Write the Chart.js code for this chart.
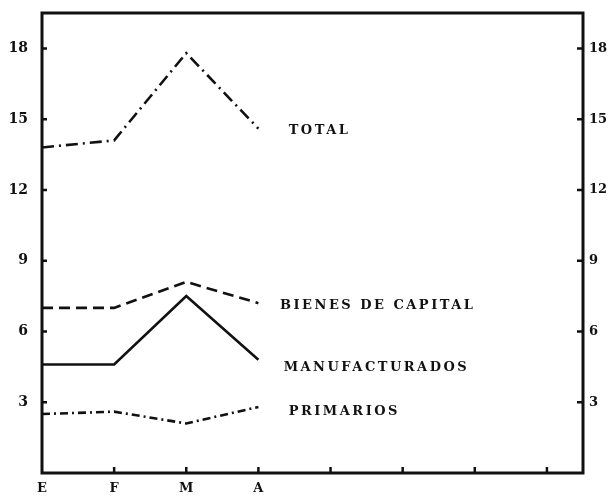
<!DOCTYPE html>
<html>
<head>
<meta charset="utf-8">
<script src="https://cdn.jsdelivr.net/npm/chart.js@4/dist/chart.umd.min.js"></script>
<style>
  html, body { margin: 0; padding: 0; background: #fff; }
  #wrap { width: 611px; height: 500px; }
</style>
</head>
<body>
<div id="wrap"><canvas id="chart" width="611" height="500"></canvas></div>
<script>
// months shown on the axis, the rest of the year is left blank
const months = ['E', 'F', 'M', 'A'];
const total = [13.8, 14.1, 17.8, 14.6];
const bienesCapital = [7.0, 7.0, 8.1, 7.2];
const manufacturados = [4.6, 4.6, 7.5, 4.8];
const primarios = [2.5, 2.6, 2.1, 2.8];

const seriesNames = ['TOTAL', 'BIENES DE CAPITAL', 'MANUFACTURADOS', 'PRIMARIOS'];
// where each name is written, in axis units
const nameX = [3.42, 3.3, 3.35, 3.42];
const nameY = [14.5, 7.1, 4.45, 2.6];

const ink = '#111';
const serif = '"DejaVu Serif", "Liberation Serif", serif';

const pts = arr => arr.map((v, i) => ({ x: i, y: v }));

// thick frame, inward ticks and the series names
const frame = {
  id: 'frame',
  afterDraw(chart) {
    const { ctx, chartArea: a, scales } = chart;
    const xs = scales.x, ys = scales.y;
    ctx.save();
    ctx.strokeStyle = ink;
    ctx.lineWidth = 3;
    ctx.strokeRect(a.left, a.top, a.right - a.left, a.bottom - a.top);

    ctx.lineWidth = 2.5;
    ctx.beginPath();
    for (let v = 3; v <= 18; v += 3) {
      const y = ys.getPixelForValue(v);
      ctx.moveTo(a.left, y); ctx.lineTo(a.left + 5, y);
      ctx.moveTo(a.right, y); ctx.lineTo(a.right - 6, y);
    }
    for (let i = 1; i <= 7; i++) {
      const x = xs.getPixelForValue(i);
      ctx.moveTo(x, a.bottom); ctx.lineTo(x, a.bottom - 6);
    }
    ctx.stroke();

    ctx.fillStyle = ink;
    ctx.font = 'bold 13px ' + serif;
    ctx.letterSpacing = '2.5px';
    ctx.textBaseline = 'middle';
    ctx.textAlign = 'left';
    seriesNames.forEach((n, i) => {
      ctx.fillText(n, xs.getPixelForValue(nameX[i]), ys.getPixelForValue(nameY[i]));
    });
    ctx.restore();
  }
};

const line = (label, data, dash) => ({
  label,
  data: pts(data),
  borderColor: ink,
  borderWidth: 2.6,
  borderDash: dash,
  pointRadius: 0,
  tension: 0,
  fill: false
});

// fixed side width, and no extra room reserved above/below for tick labels
const sideFit = w => s => { s.width = w; s.paddingTop = 0; s.paddingBottom = 0; };

new Chart(document.getElementById('chart'), {
  type: 'line',
  data: {
    datasets: [
      line('TOTAL', total, [12, 5, 2, 5]),
      line('BIENES DE CAPITAL', bienesCapital, [11, 6]),
      line('MANUFACTURADOS', manufacturados, []),
      line('PRIMARIOS', primarios, [8, 4, 2, 4])
    ]
  },
  options: {
    responsive: false,
    animation: false,
    layout: { padding: { top: 13, left: 0, right: 0, bottom: 0 } },
    plugins: { legend: { display: false }, tooltip: { enabled: false } },
    scales: {
      x: {
        type: 'linear',
        min: 0,
        max: 7.5,
        grid: { display: false, drawTicks: false },
        border: { display: false },
        afterFit: s => { s.height = 27; s.paddingLeft = 0; s.paddingRight = 0; },
        ticks: {
          stepSize: 1,
          includeBounds: false,
          autoSkip: false,
          maxRotation: 0,
          padding: 8,
          color: ink,
          font: { family: serif, size: 13, weight: 'bold' },
          callback: v => months[v] || ''
        }
      },
      y: {
        min: 0,
        max: 19.5,
        position: 'left',
        grid: { display: false, drawTicks: false },
        border: { display: false },
        afterFit: sideFit(42),
        ticks: {
          stepSize: 3,
          includeBounds: false,
          padding: 14,
          color: ink,
          font: { family: serif, size: 14, weight: 'bold' },
          callback: v => (v === 0 ? '' : v)
        }
      },
      y2: {
        min: 0,
        max: 19.5,
        position: 'right',
        grid: { display: false, drawTicks: false },
        border: { display: false },
        afterFit: sideFit(28),
        ticks: {
          stepSize: 3,
          includeBounds: false,
          padding: 6,
          color: ink,
          font: { family: serif, size: 13, weight: 'bold' },
          callback: v => (v === 0 ? '' : v)
        }
      }
    }
  },
  plugins: [frame]
});
</script>
</body>
</html>
